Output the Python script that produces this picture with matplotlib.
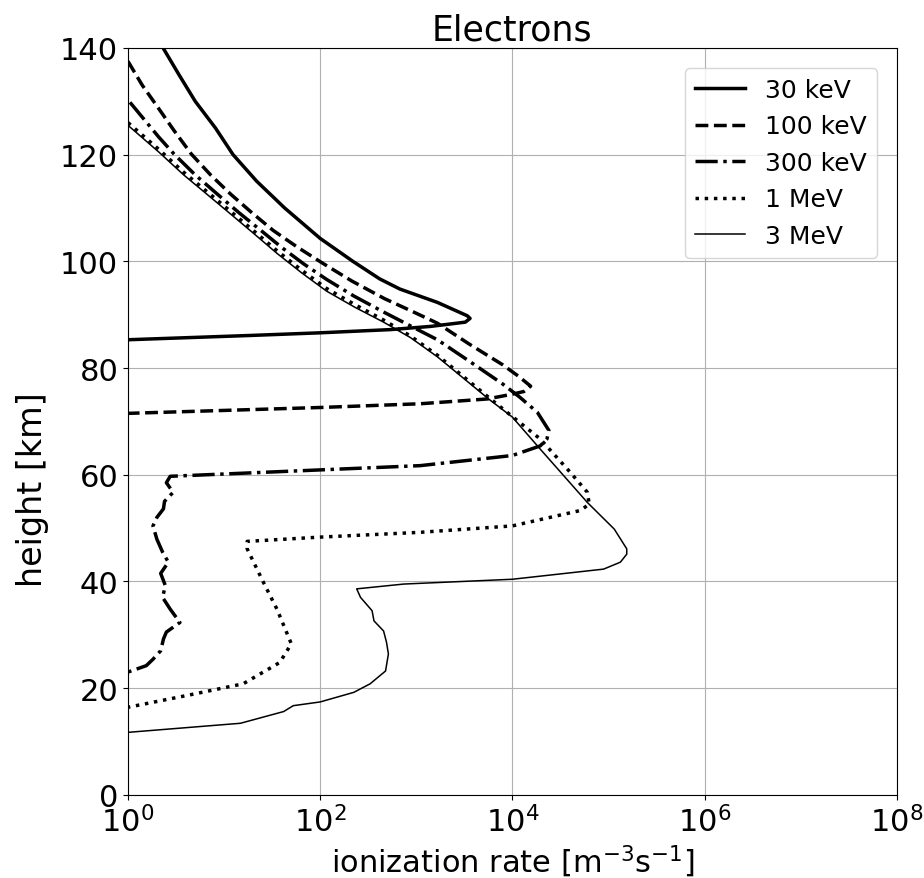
import matplotlib
matplotlib.use("Agg")
import matplotlib.pyplot as plt
from matplotlib.ticker import NullLocator

# height [km] and ionization rate [m^-3 s^-1]
h_30keV = [140, 135, 130, 125, 120, 115, 110, 104.3, 100, 96.7, 94.8, 92.3, 89.8, 89.3,
           88.6, 87.8, 87.2, 86.6, 86.1, 85.3]
q_30keV = [2.32, 3.39, 5.01, 8.13, 12.4, 21.9, 42.7, 100, 219, 417, 676, 1660, 3390, 3630,
           3240, 1410, 537, 100, 18.6, 1]

h_100keV = [137.5, 133.0, 128.9, 124.5, 120.1, 116.2, 112.6, 109.1, 105.8, 102.7, 99.7, 96.3,
            93.0, 90.6, 88.4, 84.5, 80.6, 78.5, 76.6, 75.6, 75.1, 74.2, 73.3, 72.6, 71.5]
q_100keV = [1, 1.41, 2.04, 3.02, 4.57, 7.24, 11.7, 19.5, 32.4, 57.5, 105, 214,
            468, 912, 1660, 3550, 7940, 1.15e4, 1.55e4, 1.32e4, 1e4, 5500, 1100, 100, 1]

h_300keV = [129.8, 123.3, 120.1, 116.2, 112.6, 109.2, 106.0, 102.6, 99.5, 96.6, 93.5, 90.5,
            87.8, 85.3, 81.3, 77.0, 74.5, 71.7, 68.3, 66.7, 65.4, 63.6, 61.7, 60.9,
            59.7, 58.5, 56.7, 55.0, 53.6, 52.0, 50.4, 47.9, 45.5, 43.6, 41.5, 39.2, 37.0,
            34.8, 32.3, 30.5, 29.2, 27.0, 25.4, 24.2, 23.0]
q_300keV = [1.05, 2.09, 3.02, 5.01, 8.51, 14.1, 23.4, 39.8, 67.6, 117, 224, 457,
            891, 1660, 3550, 7940, 1.2e4, 1.82e4, 2.4e4, 2.29e4, 1.95e4, 1e4, 1100, 100,
            2.75, 2.51, 2.95, 2.40, 2.34, 2.0, 1.82, 2.0, 2.29, 2.63, 2.19, 2.45, 2.29,
            2.75, 3.47, 2.51, 2.34, 2.19, 1.82, 1.55, 1]

h_1MeV = [126, 121, 116.7, 112.8, 109.2, 105.7, 102, 98.3, 94.9, 91.9, 89.0, 86.0, 82.4,
          78.1, 74.4, 70.9, 66.7, 60.5, 56.7, 54.5, 53.3, 50.4, 49.2, 48.3, 47.5, 46.1,
          39.8, 34.8, 28.3, 24.8, 20.8, 18.6, 16.4]
q_1MeV = [1, 2.09, 3.80, 6.92, 12.0, 20.4, 35.5, 64.6, 117, 229, 457, 871, 1660,
          3240, 5750, 1e4, 1.95e4, 3.98e4, 6.03e4, 6.31e4, 5.13e4, 1e4, 1100, 100, 17.4, 17.4,
          25.7, 35.5, 50.1, 38, 15.8, 4.07, 1]

h_3MeV = [125.5, 120.5, 116.2, 112.3, 108.7, 105.2, 101.5, 97.8, 94.4, 91.4, 88.6, 85.7,
          82.1, 77.8, 74.1, 70.8, 64.8, 54.8, 49.8, 46.1, 45.1, 43.6, 42.3, 41.6, 40.4, 39.5,
          38.6, 37.0, 34.5, 32.6, 30.7, 28.6, 26.4, 23.2, 20.8, 19.2, 17.4, 16.7, 15.6, 13.4,
          11.7]
q_3MeV = [1, 2.09, 3.80, 6.92, 12.0, 20.4, 35.5, 64.6, 117, 229, 457, 871,
          1660, 3240, 5750, 1e4, 1.95e4, 6.03e4, 1.15e5, 1.55e5, 1.55e5, 1.33e5, 8.9e4, 3.98e4,
          1e4, 741, 240, 263, 347, 363, 457, 490, 513, 479, 331, 224, 100, 52.5, 41.7, 14.8, 1]

fig = plt.figure(figsize=(9.24, 8.79), dpi=100)
ax = fig.add_axes([0.1385, 0.0947, 0.832, 0.8496])

ax.plot(q_30keV, h_30keV, color="black", linestyle="-", linewidth=2.5, label="30 keV")
ax.plot(q_100keV, h_100keV, color="black", linestyle="--", linewidth=2.5, label="100 keV")
ax.plot(q_300keV, h_300keV, color="black", linestyle="-.", linewidth=2.5, label="300 keV")
ax.plot(q_1MeV, h_1MeV, color="black", linestyle=":", linewidth=2.5, label="1 MeV")
ax.plot(q_3MeV, h_3MeV, color="black", linestyle="-", linewidth=1.1, label="3 MeV")

ax.set_xscale("log")
ax.set_xlim(1, 1e8)
ax.set_ylim(0, 140)
ax.set_xticks([1, 1e2, 1e4, 1e6, 1e8])
ax.xaxis.set_minor_locator(NullLocator())
ax.tick_params(labelsize=22)
ax.grid(True)

ax.set_title("Electrons", fontsize=25)
ax.set_xlabel("ionization rate [m$^{-3}$s$^{-1}$]", fontsize=22)
ax.set_ylabel("height [km]", fontsize=24)
ax.yaxis.set_label_coords(-0.103, 0.41)
ax.legend(loc="upper right", fontsize=18, borderaxespad=0.8)

fig.savefig("out.png", dpi=100)
